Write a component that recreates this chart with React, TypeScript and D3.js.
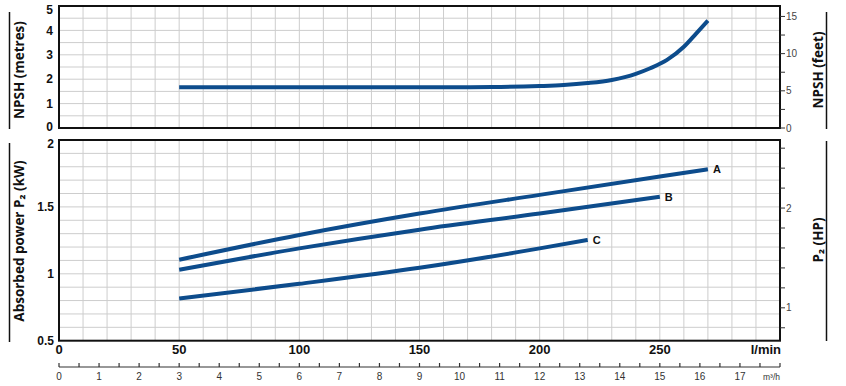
import React from "react";
import * as d3 from "d3";

// ---------- data ----------
const flowTicks = [0, 50, 100, 150, 200, 250];
const npshTicks = [0, 1, 2, 3, 4, 5];
const powerTicks = [0.5, 1, 1.5, 2];
const feetTicks = [0, 2.5, 5, 7.5, 10, 12.5, 15];
const feetLabels = [0, 5, 10, 15];
const hpTicks = [0.8, 1, 1.2, 1.4, 1.6, 1.8, 2, 2.2, 2.4, 2.6];
const hpLabels = [1, 2];
const m3hTicks = [0, 1, 2, 3, 4, 5, 6, 7, 8, 9, 10, 11, 12, 13, 14, 15, 16, 17];

const npshFlow = [50, 100, 150, 180, 200, 210, 220, 230, 240, 246, 253, 260, 265, 270];
const npshM = [1.67, 1.67, 1.67, 1.68, 1.72, 1.76, 1.84, 1.97, 2.22, 2.45, 2.79, 3.33, 3.86, 4.4];

const flowA = [50, 100, 150, 200, 250, 270];
const powerA = [1.105, 1.29, 1.45, 1.59, 1.727, 1.781];
const flowB = [50, 100, 150, 200, 250];
const powerB = [1.03, 1.19, 1.33, 1.45, 1.576];
const flowC = [50, 100, 150, 200, 220];
const powerC = [0.815, 0.925, 1.045, 1.19, 1.253];
const curveNames = ["A", "B", "C"];

// ---------- layout ----------
const W = 846, H = 386;
const X0 = 59, X1 = 780;
const TOP0 = 6, TOP1 = 128;
const BOT0 = 140, BOT1 = 340.7;
const RULER_Y = 367;
const BLUE = "#0d4c8c";
const GRID = "#cdcdcd";
const NARROW = "'Liberation Sans Narrow', 'Liberation Sans', Arial, sans-serif";
const TITLE = "'Open Sans', 'DejaVu Sans', sans-serif";

export default function App() {
  const x = d3.scaleLinear().domain([0, 300]).range([X0, X1]);
  const yTop = d3.scaleLinear().domain([0, 5]).range([TOP1, TOP0]);
  const yBot = d3.scaleLinear().domain([0.5, 2]).range([BOT1, BOT0]);
  const xm3 = d3.scaleLinear().domain([0, 18]).range([X0, X1]);

  const vGrid = d3.range(10, 300, 10);
  const hGridTop = d3.range(0.5, 5, 0.5);
  const hGridBot = d3.range(0.6, 1.95, 0.1);

  const lineTop = d3
    .line<number>()
    .x((_, i) => x(npshFlow[i]))
    .y((d) => yTop(d))
    .curve(d3.curveMonotoneX);

  const mkLine = (fl: number[]) =>
    d3
      .line<number>()
      .x((_, i) => x(fl[i]))
      .y((d) => yBot(d))
      .curve(d3.curveMonotoneX);

  const series = [
    { f: flowA, p: powerA },
    { f: flowB, p: powerB },
    { f: flowC, p: powerC },
  ];

  const halfTicks = d3.range(0, 18.01, 0.5);
  // label centre: keep inside frame at the top edge
  const topLabelY = (v: number) => Math.max(yTop(v), TOP0 + 4) + 4.2;
  const botLabelY = (v: number) => Math.max(yBot(v), BOT0 + 3.5) + 4.2;

  return (
    <svg
      width={W}
      height={H}
      style={{ position: "absolute", left: 0, top: 0, background: "#fff" }}
    >
      <rect x={0} y={0} width={W} height={H} fill="#fff" />
      {/* grids */}
      {vGrid.map((v) => (
        <g key={"vg" + v}>
          <line x1={x(v)} x2={x(v)} y1={TOP0} y2={TOP1} stroke={GRID} strokeWidth={1} />
          <line x1={x(v)} x2={x(v)} y1={BOT0} y2={BOT1} stroke={GRID} strokeWidth={1} />
        </g>
      ))}
      {hGridTop.map((v) => (
        <line key={"ht" + v} x1={X0} x2={X1} y1={yTop(v)} y2={yTop(v)} stroke={GRID} strokeWidth={1} />
      ))}
      {hGridBot.map((v) => (
        <line key={"hb" + v} x1={X0} x2={X1} y1={yBot(v)} y2={yBot(v)} stroke={GRID} strokeWidth={1} />
      ))}

      {/* curves */}
      <path d={lineTop(npshM) || ""} fill="none" stroke={BLUE} strokeWidth={4} />
      {series.map((s, i) => (
        <g key={"s" + i}>
          <path d={mkLine(s.f)(s.p) || ""} fill="none" stroke={BLUE} strokeWidth={4} />
          <text
            x={x(s.f[s.f.length - 1]) + 5}
            y={yBot(s.p[s.p.length - 1]) + 4}
            fontFamily={NARROW}
            fontWeight="bold"
            fontSize={11}
            fill="#111"
          >
            {curveNames[i]}
          </text>
        </g>
      ))}

      {/* frames */}
      <rect x={X0} y={TOP0} width={X1 - X0} height={TOP1 - TOP0} fill="none" stroke="#111" strokeWidth={2} />
      <rect x={X0} y={BOT0} width={X1 - X0} height={BOT1 - BOT0} fill="none" stroke="#111" strokeWidth={2} />

      {/* left ticks */}
      {npshTicks.map((v) => (
        <text key={"nt" + v} x={53} y={topLabelY(v) - (v === 0 ? 1.5 : 0)} textAnchor="end" fontFamily={NARROW} fontWeight="bold" fontSize={12} fill="#111">
          {v}
        </text>
      ))}
      {powerTicks.map((v) => (
        <text key={"pt" + v} x={54} y={botLabelY(v)} textAnchor="end" fontFamily={NARROW} fontWeight="bold" fontSize={12} fill="#111">
          {v}
        </text>
      ))}

      {/* right ticks: feet */}
      {feetTicks.map((v) => (
        <line key={"ft" + v} x1={X1} x2={X1 + 5} y1={yTop(v * 0.3048)} y2={yTop(v * 0.3048)} stroke="#333" strokeWidth={1} />
      ))}
      {feetLabels.map((v) => (
        <text key={"fl" + v} x={X1 + 6} y={yTop(v * 0.3048) + 3.5} fontFamily={NARROW} fontSize={10} fill="#444">
          {v}
        </text>
      ))}
      {/* right ticks: HP */}
      {hpTicks.map((v) => (
        <line key={"hp" + v} x1={X1} x2={X1 + 5} y1={yBot(v * 0.7457)} y2={yBot(v * 0.7457)} stroke="#333" strokeWidth={1} />
      ))}
      {hpLabels.map((v) => (
        <text key={"hl" + v} x={X1 + 6} y={yBot(v * 0.7457) + 3.5} fontFamily={NARROW} fontSize={10} fill="#444">
          {v}
        </text>
      ))}

      {/* flow axis labels */}
      {flowTicks.map((v) => (
        <text key={"fx" + v} x={x(v)} y={354} textAnchor="middle" fontFamily={NARROW} fontWeight="bold" fontSize={13} fill="#111">
          {v}
        </text>
      ))}
      <text x={X1 + 1} y={354} textAnchor="end" fontFamily={NARROW} fontWeight="bold" fontSize={13} fill="#111">
        l/min
      </text>

      {/* m3/h ruler */}
      <line x1={xm3(0)} x2={xm3(18)} y1={RULER_Y} y2={RULER_Y} stroke="#333" strokeWidth={1.2} />
      {halfTicks.map((v) => (
        <line key={"rt" + v} x1={xm3(v)} x2={xm3(v)} y1={RULER_Y - 4} y2={RULER_Y} stroke="#333" strokeWidth={1.2} />
      ))}
      {m3hTicks.map((v) => (
        <text key={"ml" + v} x={xm3(v)} y={380} textAnchor="middle" fontFamily={NARROW} fontSize={10} fill="#333">
          {v}
        </text>
      ))}
      <text x={X1} y={380} textAnchor="end" fontFamily={NARROW} fontSize={8.5} fill="#333">
        m³/h
      </text>

      {/* side titles */}
      <line x1={9.5} x2={9.5} y1={12} y2={129} stroke="#111" strokeWidth={1.5} />
      <line x1={9.5} x2={9.5} y1={143} y2={342} stroke="#111" strokeWidth={1.5} />
      <line x1={826.5} x2={826.5} y1={12} y2={129} stroke="#111" strokeWidth={1.5} />
      <line x1={826.5} x2={826.5} y1={141} y2={341} stroke="#111" strokeWidth={1.5} />

      <text transform="translate(24,70) rotate(-90)" textAnchor="middle" fontFamily={TITLE} fontWeight="bold" fontSize={13.5} fill="#111">
        NPSH (metres)
      </text>
      <text transform="translate(24,241) rotate(-90)" textAnchor="middle" fontFamily={TITLE} fontWeight="bold" fontSize={13.5} fill="#111">
        Absorbed power  P₂  (kW)
      </text>
      <text transform="translate(823,70) rotate(-90)" textAnchor="middle" fontFamily={TITLE} fontWeight="bold" fontSize={13.5} fill="#111">
        NPSH (feet)
      </text>
      <text transform="translate(823,240) rotate(-90)" textAnchor="middle" fontFamily={TITLE} fontWeight="bold" fontSize={13.5} fill="#111">
        P₂  (HP)
      </text>
    </svg>
  );
}
